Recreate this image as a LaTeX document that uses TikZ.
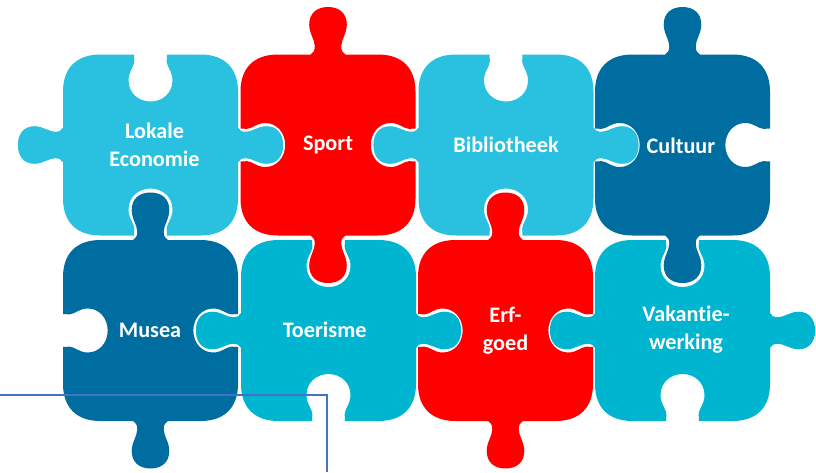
\documentclass[tikz,border=0pt]{standalone}
\usepackage{fontspec}
\setmainfont[Ligatures=NoCommon]{Carlito}
\definecolor{lightc}{RGB}{41,193,223}
\definecolor{darkc}{RGB}{0,109,160}
\definecolor{tealc}{RGB}{0,181,208}
\definecolor{redc}{RGB}{255,0,0}
\definecolor{linec}{RGB}{68,114,196}
\tikzset{
  lightpiece/.style={fill=lightc},
  darkpiece/.style={fill=darkc},
  tealpiece/.style={fill=tealc},
  redpiece/.style={fill=redc},
  lab/.style={text=white,font=\fontsize{22.2}{28}\selectfont\bfseries,align=center,inner sep=0pt},
  wire/.style={draw=linec,line width=1.3pt}
}
\def\tabprof{-- (-17.5,0) .. controls (-15,-1) and (-13.2,-4) .. (-13.2,-8)
  .. controls (-13.2,-15) and (-18.8,-21) .. (-18.8,-30)
  .. controls (-18.8,-41) and (-11.5,-47.5) .. (0,-47.5)
  .. controls (11.5,-47.5) and (18.8,-41) .. (18.8,-30)
  .. controls (18.8,-21) and (13.2,-15) .. (13.2,-8)
  .. controls (13.2,-4) and (15,-1) .. (17.5,0)}
\def\sockprof{-- (-16.5,0) .. controls (-16.3,2) and (-16.2,5) .. (-16.2,7)
  .. controls (-16.2,12) and (-22,17) .. (-22,26)
  .. controls (-22,38) and (-12.5,47) .. (0,47)
  .. controls (12.5,47) and (22,38) .. (22,26)
  .. controls (22,17) and (16.2,12) .. (16.2,7)
  .. controls (16.2,5) and (16.3,2) .. (16.5,0)}
% centre x, centre y, style, top, right, bottom, left
\newcommand\puzzle[7]{%
  \fill[#3] (#1-50,#2-90.5)
    {[shift={(#1,#2-90.5)}] #4}
    -- (#1+50,#2-90.5) .. controls (#1+74,#2-90.5) and (#1+87.5,#2-77) .. (#1+87.5,#2-53.5)
    {[shift={(#1+87.5,#2)},rotate=-90,yscale=.95] #5}
    -- (#1+87.5,#2+53.5) .. controls (#1+87.5,#2+77) and (#1+74,#2+90.5) .. (#1+50,#2+90.5)
    {[shift={(#1,#2+90.5)},rotate=180] #6}
    -- (#1-50,#2+90.5) .. controls (#1-74,#2+90.5) and (#1-87.5,#2+77) .. (#1-87.5,#2+53.5)
    {[shift={(#1-87.5,#2)},rotate=90,yscale=.95] #7}
    -- (#1-87.5,#2-53.5) .. controls (#1-87.5,#2-77) and (#1-74,#2-90.5) .. (#1-50,#2-90.5)
    -- cycle;}
\begin{document}
\begin{tikzpicture}[x=1pt,y=-1pt]
\useasboundingbox (0,0) rectangle (816,472);
\puzzle{150.5}{145}{lightpiece}{\sockprof}{\tabprof}{\sockprof}{\tabprof}
\puzzle{328}{145}{redpiece}{\tabprof}{\sockprof}{\tabprof}{\sockprof}
\puzzle{506}{145}{lightpiece}{\sockprof}{\tabprof}{\sockprof}{\tabprof}
\puzzle{682.5}{145}{darkpiece}{\tabprof}{\sockprof}{\tabprof}{\sockprof}
\puzzle{150.5}{330.5}{darkpiece}{\tabprof}{\sockprof}{\tabprof}{\sockprof}
\puzzle{328.5}{330.5}{tealpiece}{\sockprof}{\tabprof}{\sockprof}{\tabprof}
\puzzle{505.5}{330.5}{redpiece}{\tabprof}{\sockprof}{\tabprof}{\sockprof}
\puzzle{682.5}{330.5}{tealpiece}{\sockprof}{\tabprof}{\sockprof}{\tabprof}
\node[lab] (lokale) at (154.5,145) {Lokale\\Economie};
\node[lab,anchor=base] (sport) at (328,150) {Sport};
\node[lab,anchor=base] (biblio) at (506,152.7) {Bibliotheek};
\node[lab,anchor=base] (cultuur) at (681,153) {Cultuur};
\node[lab,anchor=base] (musea) at (150,337) {Musea};
\node[lab,anchor=base] (toerisme) at (324.7,337) {Toerisme};
\node[lab] (erfgoed) at (505.5,330.5) {Erf-\\goed};
\node[lab] (vakantie) at (686,329.7) {Vakantie-\\werking};
\coordinate (w1) at (0,395);
\coordinate (w2) at (327,395);
\coordinate (w3) at (327,472);
\draw[wire] (w1) -- (w2) -- (w3);
\end{tikzpicture}
\end{document}
